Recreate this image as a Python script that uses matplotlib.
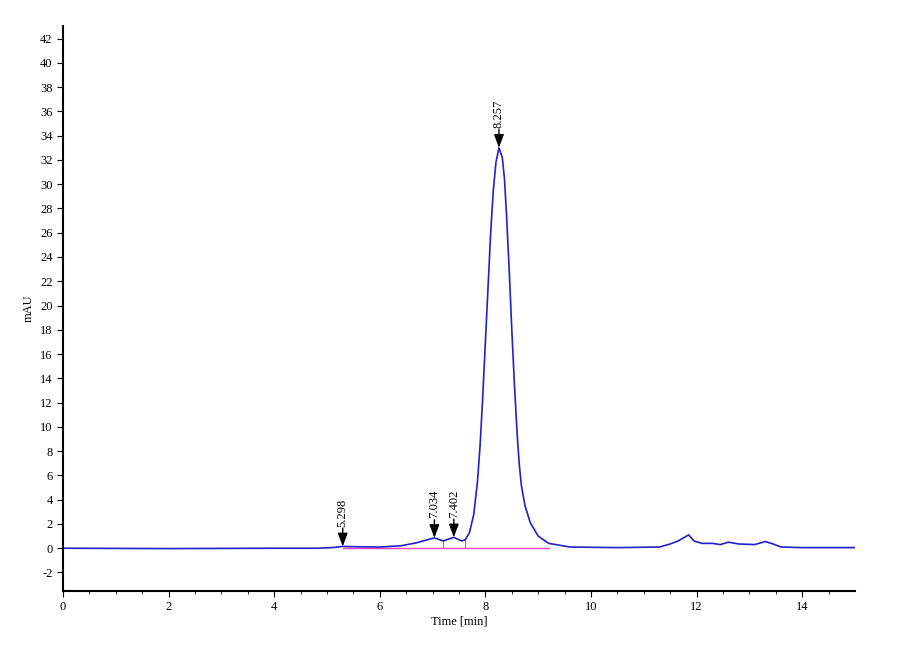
import matplotlib
matplotlib.use("Agg")
import matplotlib.pyplot as plt

time = [0, 2, 4, 4.8, 5.1, 5.3, 5.6, 6.0, 6.4, 6.7, 6.9, 7.034, 7.2, 7.402, 7.55, 7.62, 7.7, 7.78,
        7.85, 7.9, 7.95, 8.0, 8.05, 8.1, 8.15, 8.2, 8.257, 8.32, 8.36, 8.4, 8.45, 8.5, 8.55, 8.6, 8.64,
        8.68, 8.75, 8.85, 9.0, 9.2, 9.6,
        10.5, 11.3, 11.5, 11.65, 11.85, 11.95, 12.1, 12.3, 12.45, 12.6, 12.8, 13.1, 13.3, 13.45, 13.6, 14, 15]
signal = [0, -0.03, 0, 0.0, 0.05, 0.15, 0.12, 0.1, 0.2, 0.45, 0.7, 0.85, 0.6, 0.9, 0.6, 0.7, 1.3, 2.8,
          5.5, 8.5, 12.5, 17, 21.5, 26, 29.5, 31.8, 33.0, 32.2, 30.5, 27.5, 23, 18, 13.5, 9.5, 7,
          5.2, 3.5, 2.1, 1.0, 0.4, 0.1,
          0.05, 0.1, 0.35, 0.6, 1.1, 0.6, 0.4, 0.4, 0.3, 0.5, 0.35, 0.3, 0.55, 0.35, 0.1, 0.05, 0.05]
peak_times = [5.298, 7.034, 7.402, 8.257]
peak_heights = [0.15, 0.85, 0.9, 33.0]
peak_labels = ["5.298", "7.034", "7.402", "8.257"]
baseline_x = [5.3, 9.2]
baseline_y = [0.0, 0.0]
split_times = [7.2, 7.62]
split_heights = [0.6, 0.7]

plt.rcParams['font.family'] = ['Liberation Serif', 'DejaVu Serif']
fig = plt.figure(figsize=(9, 6.6), dpi=100)
ax = fig.add_axes([0.07, 0.105, 0.88, 0.855])
ax.plot(baseline_x, baseline_y, color='#ff40c0', lw=1)
for t, h in zip(split_times, split_heights):
    ax.plot([t, t], [0, h], color='#ff40c0', lw=0.8)
ax.plot(time, signal, color='#2020cc', lw=1.2)
for t, h, lab in zip(peak_times, peak_heights, peak_labels):
    ax.annotate('', xy=(t, h), xytext=(t, h + 1.5),
                arrowprops=dict(arrowstyle='-|>,head_width=0.3,head_length=0.8', color='black', lw=1,
                                shrinkA=0, shrinkB=0))
    ax.text(t, h + 1.6, lab, rotation=90, ha='center', va='bottom', fontsize=9)
ax.set_xlim(0, 15)
ax.set_ylim(-3.5, 43)
ax.set_xticks(range(0, 16, 2))
ax.set_xticks([i + 0.5 for i in range(15)] + list(range(1, 15, 2)), minor=True)
ax.set_yticks(range(-2, 43, 2))
ax.set_yticklabels([str(v) for v in range(-2, 43, 2)])
for s in ['top', 'right']:
    ax.spines[s].set_visible(False)
ax.spines['left'].set_linewidth(1.5)
ax.spines['bottom'].set_linewidth(1.5)
ax.tick_params(labelsize=9, direction='out', length=4)
ax.tick_params(which='minor', length=2)
ax.set_xlabel('Time [min]', fontsize=9, labelpad=2)
ax.set_ylabel('mAU', fontsize=9)
fig.savefig('out.png')
